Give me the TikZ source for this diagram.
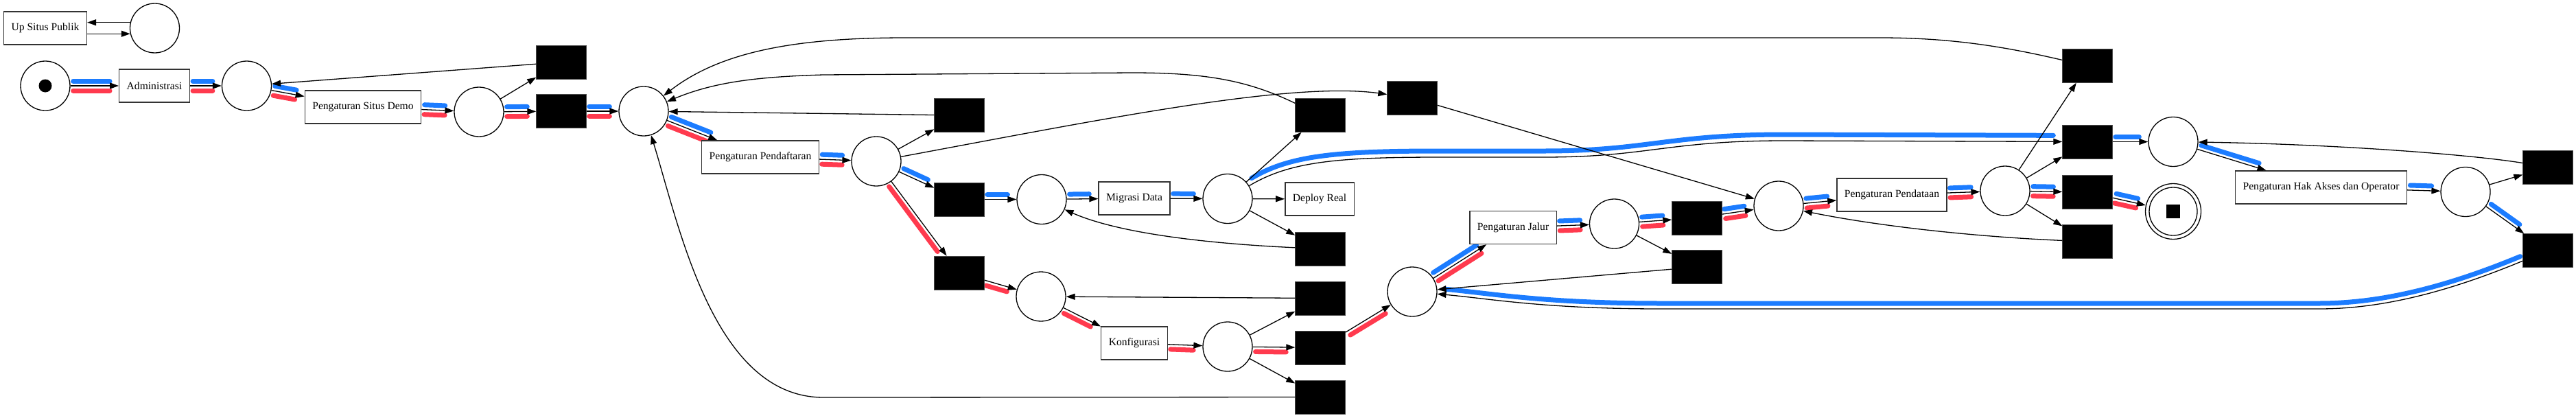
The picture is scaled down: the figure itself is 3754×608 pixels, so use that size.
\documentclass[tikz,border=0pt]{standalone}
\usepackage{fontspec}
\setmainfont{Liberation Serif}
\usetikzlibrary{arrows.meta,backgrounds}
\definecolor{hlblue}{RGB}{28,124,255}
\definecolor{hlred}{RGB}{255,58,78}
\newcommand{\hlarc}[4]{%
  \path (#3); \pgfgetlastxy{\hlax}{\hlay}%
  \path (#4); \pgfgetlastxy{\hlbx}{\hlby}%
  \pgfmathsetmacro{\hlang}{atan2((\hlby)-(\hlay),(\hlbx)-(\hlax))+(#2)}%
  \draw[#1, transform canvas={shift={(\hlang:7pt)}}] (#3) -- (#4);%
}
\begin{document}
\begin{tikzpicture}[x=1pt, y=-1pt,
    pnplace/.style={circle, draw, fill=white, line width=1.3pt, minimum size=72pt, inner sep=0pt},
    hiddentr/.style={rectangle, fill=black, draw=black!70, minimum width=73pt, minimum height=49pt, inner sep=0pt},
    tasktr/.style={rectangle, draw=black!80, fill=white, line width=1.4pt, minimum height=48pt, inner xsep=11pt,
      font=\fontsize{15.6pt}{18pt}\selectfont},
    flow/.style={-{Triangle[length=13pt,width=9pt]}, line width=1.3pt},
    blueline/.style={hlblue, line width=7pt, line cap=round, shorten <=4pt, shorten >=13pt},
    redline/.style={hlred, line width=7pt, line cap=round, shorten <=4pt, shorten >=13pt}]
    \useasboundingbox (0,0) rectangle (3754,608);

    \node[tasktr] (upsp) at (66,41) {Up Situs Publik};
    \node[pnplace] (pup) at (225.5,41) {};
    \node[pnplace] (start) at (66,125) {};
    \node[tasktr] (adm) at (225,125) {Administrasi};
    \node[pnplace] (p1) at (359.5,125) {};
    \node[tasktr] (psd) at (529,156) {Pengaturan Situs Demo};
    \node[pnplace] (p2) at (698,163) {};
    \node[hiddentr] (ta) at (818,90.5) {};
    \node[hiddentr] (tb) at (818,162) {};
    \node[pnplace] (p3) at (938,162) {};
    \node[tasktr] (pp) at (1108,229) {Pengaturan Pendaftaran};
    \node[pnplace] (p4) at (1277,235) {};
    \node[hiddentr] (tc) at (1398,168) {};
    \node[hiddentr] (td) at (1398,290.5) {};
    \node[hiddentr] (te) at (1398,397.5) {};
    \node[pnplace] (p5) at (1518,290.5) {};
    \node[tasktr] (md) at (1653,289) {Migrasi Data};
    \node[pnplace] (p6) at (1789,289.5) {};
    \node[tasktr] (dr) at (1923,290) {Deploy Real};
    \node[hiddentr] (tf) at (1924,168) {};
    \node[hiddentr] (tg) at (1924,362.5) {};
    \node[hiddentr] (th) at (1924,434.5) {};
    \node[pnplace] (p7) at (1517,432) {};
    \node[tasktr] (konf) at (1653,500) {Konfigurasi};
    \node[pnplace] (p8) at (1789,505) {};
    \node[hiddentr] (ti) at (1924,506.5) {};
    \node[hiddentr] (tj) at (1924,578.5) {};
    \node[hiddentr] (tk) at (2058,142.5) {};
    \node[pnplace] (p9) at (2058,425) {};
    \node[tasktr] (pj) at (2205,331.5) {Pengaturan Jalur};
    \node[pnplace] (p10) at (2352.5,326) {};
    \node[hiddentr] (tl) at (2473,317.5) {};
    \node[hiddentr] (tm) at (2473,389) {};
    \node[pnplace] (p11) at (2592,300) {};
    \node[tasktr] (ppd) at (2757,284) {Pengaturan Pendataan};
    \node[pnplace] (p12) at (2922,278) {};
    \node[hiddentr] (tn) at (3042,96) {};
    \node[hiddentr] (to) at (3042,206.5) {};
    \node[hiddentr] (tp) at (3042,280) {};
    \node[hiddentr] (tq) at (3042,352) {};
    \node[pnplace] (p13) at (3167,206.5) {};
    \node[pnplace, minimum size=81pt] (endp) at (3167,308) {};
    \node[tasktr] (pha) at (3382.5,273) {Pengaturan Hak Akses dan Operator};
    \node[pnplace] (p14) at (3593,279.5) {};
    \node[hiddentr] (tr) at (3713,243.5) {};
    \node[hiddentr] (ts) at (3713,365) {};

    \fill (start) circle (9.5pt);
    \draw[line width=1.3pt] (endp) circle (35pt);
    \fill ([shift={(-10pt,-10pt)}]endp.center) rectangle ++(20,-20);

    \begin{pgfonlayer}{background}
    \hlarc{blueline}{90}{start}{adm}   \hlarc{redline}{-90}{start}{adm}
    \hlarc{blueline}{90}{adm}{p1}      \hlarc{redline}{-90}{adm}{p1}
    \hlarc{blueline}{90}{p1}{psd}      \hlarc{redline}{-90}{p1}{psd}
    \hlarc{blueline}{90}{psd}{p2}      \hlarc{redline}{-90}{psd}{p2}
    \hlarc{blueline}{90}{p2}{tb}       \hlarc{redline}{-90}{p2}{tb}
    \hlarc{blueline}{90}{tb}{p3}       \hlarc{redline}{-90}{tb}{p3}
    \hlarc{blueline}{90}{p3}{pp}       \hlarc{redline}{-90}{p3}{pp}
    \hlarc{blueline}{90}{pp}{p4}       \hlarc{redline}{-90}{pp}{p4}
    \hlarc{blueline}{90}{p4}{td}
    \hlarc{blueline}{90}{td}{p5}
    \hlarc{blueline}{90}{p5}{md}
    \hlarc{blueline}{90}{md}{p6}
    \hlarc{redline}{-90}{p4}{te}
    \hlarc{redline}{-90}{te}{p7}
    \hlarc{redline}{-90}{p7}{konf}
    \hlarc{redline}{-90}{konf}{p8}
    \hlarc{redline}{-90}{p8}{ti}
    \hlarc{redline}{-90}{ti}{p9}
    \hlarc{blueline}{90}{p9}{pj}       \hlarc{redline}{-90}{p9}{pj}
    \hlarc{blueline}{90}{pj}{p10}      \hlarc{redline}{-90}{pj}{p10}
    \hlarc{blueline}{90}{p10}{tl}      \hlarc{redline}{-90}{p10}{tl}
    \hlarc{blueline}{90}{tl}{p11}      \hlarc{redline}{-90}{tl}{p11}
    \hlarc{blueline}{90}{p11}{ppd}     \hlarc{redline}{-90}{p11}{ppd}
    \hlarc{blueline}{90}{ppd}{p12}     \hlarc{redline}{-90}{ppd}{p12}
    \hlarc{blueline}{90}{p12}{tp}      \hlarc{redline}{-90}{p12}{tp}
    \hlarc{blueline}{90}{tp}{endp}     \hlarc{redline}{-90}{tp}{endp}
    \hlarc{blueline}{90}{to}{p13}
    \hlarc{blueline}{90}{p13}{pha}
    \hlarc{blueline}{90}{pha}{p14}
    \hlarc{blueline}{90}{p14}{ts}
    \draw[blueline, transform canvas={shift={(0,-9)}}] (p6) .. controls (1880,235) and (1950,229) .. (2100,229)
      -- (2250,229) .. controls (2400,229) and (2430,205) .. (2600,205) -- (to);
    \draw[blueline, transform canvas={shift={(0,-8)}}] (ts) .. controls (3580,420) and (3480,450) .. (3380,450)
      -- (2420,450) .. controls (2250,450) and (2170,435) .. (p9);
    \end{pgfonlayer}

    \draw[flow] (pup.167) -- (pup.167 -| upsp.east);
    \draw[flow] (upsp.east |- pup.193) -- (pup.193);
    \draw[flow] (start) -- (adm);
    \draw[flow] (adm) -- (p1);
    \draw[flow] (p1) -- (psd);
    \draw[flow] (ta) -- (p1);
    \draw[flow] (psd) -- (p2);
    \draw[flow] (p2) -- (ta);
    \draw[flow] (p2) -- (tb);
    \draw[flow] (tb) -- (p3);
    \draw[flow] (p3) -- (pp);
    \draw[flow] (pp) -- (p4);
    \draw[flow] (tc) -- (p3);
    \draw[flow] (tf) .. controls (1820,118) and (1760,106) .. (1650,106) -- (1200,109) .. controls (1100,112) and (1040,120) .. (p3);
    \draw[flow] (tn) .. controls (2930,70) and (2850,55) .. (2740,55) -- (1320,55) .. controls (1160,55) and (1050,75) .. (p3);
    \draw[flow] (tj) -- (1200,579) .. controls (1040,579) and (990,330) .. (p3);
    \draw[flow] (p4) -- (tc);
    \draw[flow] (p4) -- (td);
    \draw[flow] (p4) -- (te);
    \draw[flow] (p4) .. controls (1600,175) and (1880,118) .. (tk);
    \draw[flow] (td) -- (p5);
    \draw[flow] (p5) -- (md);
    \draw[flow] (md) -- (p6);
    \draw[flow] (p6) -- (tf);
    \draw[flow] (p6) -- (dr);
    \draw[flow] (p6) -- (tg);
    \draw[flow] (p6) .. controls (1880,235) and (1950,229) .. (2100,229)
      -- (2250,229) .. controls (2400,229) and (2430,205) .. (2600,205) -- (to);
    \draw[flow] (tg) .. controls (1760,355) and (1630,340) .. (p5);
    \draw[flow] (te) -- (p7);
    \draw[flow] (th) -- (p7);
    \draw[flow] (p7) -- (konf);
    \draw[flow] (konf) -- (p8);
    \draw[flow] (p8) -- (th);
    \draw[flow] (p8) -- (ti);
    \draw[flow] (p8) -- (tj);
    \draw[flow] (ti) -- (p9);
    \draw[flow] (tm) -- (p9);
    \draw[flow] (ts) .. controls (3580,420) and (3480,450) .. (3380,450)
      -- (2420,450) .. controls (2250,450) and (2170,435) .. (p9);
    \draw[flow] (p9) -- (pj);
    \draw[flow] (pj) -- (p10);
    \draw[flow] (p10) -- (tl);
    \draw[flow] (p10) -- (tm);
    \draw[flow] (tl) -- (p11);
    \draw[flow] (tk) -- (p11);
    \draw[flow] (tq) .. controls (2880,345) and (2740,330) .. (p11);
    \draw[flow] (p11) -- (ppd);
    \draw[flow] (ppd) -- (p12);
    \draw[flow] (p12) -- (tn);
    \draw[flow] (p12) -- (to);
    \draw[flow] (p12) -- (tp);
    \draw[flow] (p12) -- (tq);
    \draw[flow] (tp) -- (endp);
    \draw[flow] (to) -- (p13);
    \draw[flow] (tr) .. controls (3600,225) and (3400,210) .. (p13);
    \draw[flow] (p13) -- (pha);
    \draw[flow] (pha) -- (p14);
    \draw[flow] (p14) -- (tr);
    \draw[flow] (p14) -- (ts);
\end{tikzpicture}
\end{document}
